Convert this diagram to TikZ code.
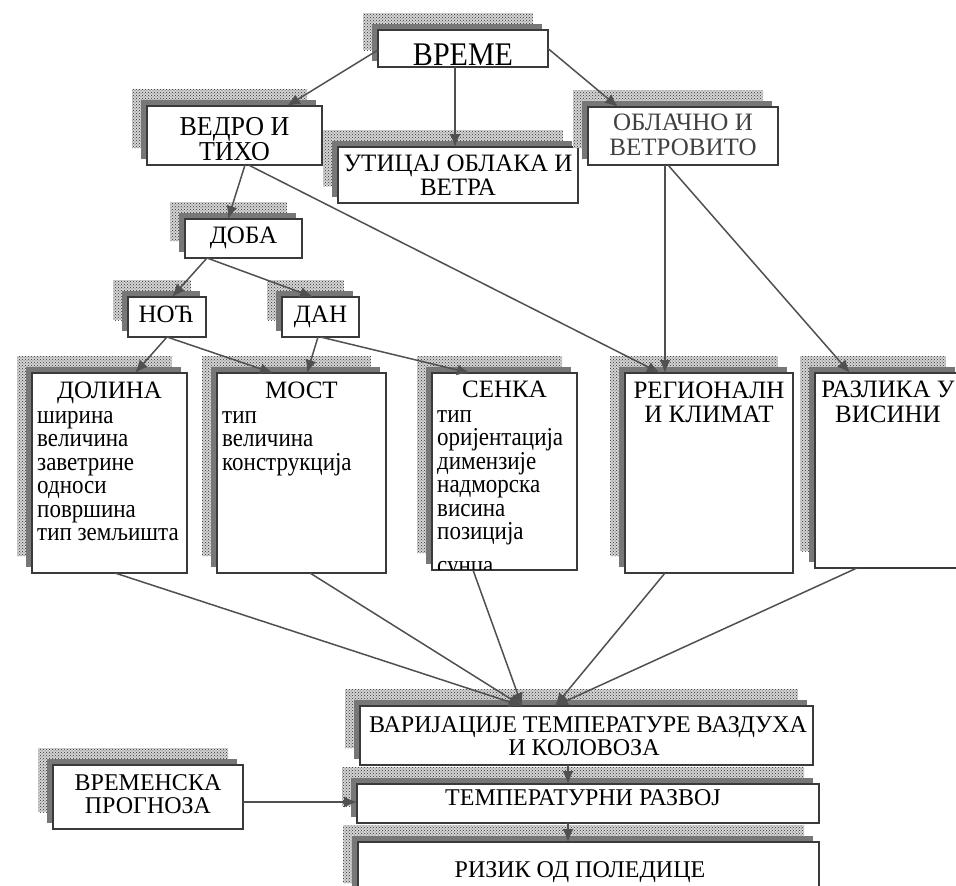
\documentclass[tikz,border=0pt]{standalone}
\usepackage{fontspec}
\usepackage{graphicx}
\setmainfont{Liberation Serif}
\newfontfamily\tms{Liberation Serif}
\usetikzlibrary{arrows.meta,patterns}
\definecolor{boxc}{HTML}{3A3A3A}
\definecolor{linec}{HTML}{505050}
\definecolor{shc}{HTML}{777777}
\definecolor{dotc}{HTML}{303030}
\definecolor{shbg}{HTML}{D4D4D4}
\newcommand\shbox[5]{%
  \fill[shbg] (#2-15,#3-17) rectangle (#4-15,#5-17);
  \fill[pattern=crosshatch dots, pattern color=dotc] (#2-15,#3-17) rectangle (#4-15,#5-17);
  \fill[shc] (#2-6,#3-6) rectangle (#4-6,#5-6);
  \node[boxst, minimum width=#4-#2, minimum height=#5-#3] (#1) at ({(#2+#4)/2},{(#3+#5)/2}) {};
}
\newcommand\tall[1]{\scalebox{1}[1.12]{#1}}
\tikzset{
  boxst/.style={draw=boxc, line width=1.5pt, fill=white, inner sep=0pt, outer sep=0pt},
  arr/.style={draw=linec, line width=1.5pt, -{Latex[length=13pt,width=11pt]}},
  lbl/.style={inner sep=0pt, anchor=base, font=\tms\fontsize{25}{25}\selectfont},
  itm/.style={inner sep=0pt, anchor=base west, font=\tms\fontsize{23}{23}\selectfont},
}
\begin{document}
\begin{tikzpicture}[x=1pt,y=-1pt]
\useasboundingbox[fill=white] (0,0) rectangle (956,886);
% boxes
\shbox{vreme}{378}{30}{548}{67}
\shbox{vedro}{147}{106}{322}{165}
\shbox{uticaj}{338}{147}{578}{203}
\shbox{oblacno}{588}{107}{778}{165}
\shbox{doba}{185}{219}{302}{258}
\shbox{noc}{128}{297}{206}{337}
\shbox{dan}{282}{297}{359}{337}
\shbox{dolina}{32}{373}{187}{573}
\shbox{most}{217}{373}{386}{573}
\shbox{senka}{432}{373}{577}{570}
\shbox{region}{625}{373}{793}{573}
\shbox{razlika}{815}{373}{961}{568}
\shbox{varij}{360}{706}{813}{765}
\shbox{temp}{357}{784}{819}{823}
\shbox{rizik}{358}{842}{819}{900}
\shbox{prognoza}{53}{765}{243}{829}
% texts
\node[lbl, font=\tms\fontsize{30}{30}\selectfont] (tvreme) at (463,65) {\scalebox{1}[1.1]{ВРЕМЕ}};
\node[lbl, font=\tms\fontsize{26}{26}\selectfont] (tvedro1) at (234.5,135) {\scalebox{1}[1.05]{ВЕДРО И}};
\node[lbl, font=\tms\fontsize{26}{26}\selectfont] (tvedro2) at (234.5,160) {\scalebox{1}[1.05]{ТИХО}};
\node[lbl] (tutic1) at (458,171) {УТИЦАЈ ОБЛАКА И};
\node[lbl] (tutic2) at (458,195) {ВЕТРА};
\node[lbl, text=black!75] (tobl1) at (683,130) {ОБЛАЧНО И};
\node[lbl, text=black!75] (tobl2) at (683,155) {ВЕТРОВИТО};
\node[lbl] (tdoba) at (243.5,243) {ДОБА};
\node[lbl] (tnoc) at (166,322) {НОЋ};
\node[lbl] (tdan) at (320.5,322) {ДАН};
\node[lbl] (tdol) at (109.5,398) {ДОЛИНА};
\node[itm] (d1) at (37,423) {\tall{ширина}};
\node[itm] (d2) at (37,446.5) {\tall{величина}};
\node[itm] (d3) at (37,470) {\tall{заветрине}};
\node[itm] (d4) at (37,493.5) {\tall{односи}};
\node[itm] (d5) at (37,517) {\tall{површина}};
\node[itm] (d6) at (37,540.5) {\tall{тип земљишта}};
\node[lbl] (tmost) at (301.5,398) {МОСТ};
\node[itm] (m1) at (222,423) {\tall{тип}};
\node[itm] (m2) at (222,446.5) {\tall{величина}};
\node[itm] (m3) at (222,470) {\tall{конструкција}};
\node[lbl] (tsenka) at (504.5,397) {СЕНКА};
\node[itm] (s1) at (437,422) {\tall{тип}};
\node[itm] (s2) at (437,445.5) {\tall{оријентација}};
\node[itm] (s3) at (437,469) {\tall{димензије}};
\node[itm] (s4) at (437,492.5) {\tall{надморска}};
\node[itm] (s5) at (437,516) {\tall{висина}};
\node[itm] (s6) at (437,539.5) {\tall{позиција}};
\begin{scope}
\clip (433,555) rectangle (576,569);
\node[itm] (s7) at (437,573) {\tall{сунца}};
\end{scope}
\node[lbl] (treg1) at (709,398) {РЕГИОНАЛН};
\node[lbl] (treg2) at (709,422) {И КЛИМАТ};
\node[lbl] (traz1) at (888,397) {РАЗЛИКА У};
\node[lbl] (traz2) at (888,422) {ВИСИНИ};
\node[lbl, font=\tms\fontsize{24}{24}\selectfont] (tvar1) at (588,732) {ВАРИЈАЦИЈЕ ТЕМПЕРАТУРЕ ВАЗДУХА};
\node[lbl, font=\tms\fontsize{24}{24}\selectfont] (tvar2) at (584,755) {И КОЛОВОЗА};
\node[lbl, font=\tms\fontsize{24}{24}\selectfont] (ttemp) at (583,805) {ТЕМПЕРАТУРНИ РАЗВОЈ};
\node[lbl, font=\tms\fontsize{24}{24}\selectfont] (triz) at (580,877) {РИЗИК ОД ПОЛЕДИЦЕ};
\node[lbl, font=\tms\fontsize{24}{24}\selectfont] (tpro1) at (148,790) {ВРЕМЕНСКА};
\node[lbl, font=\tms\fontsize{24}{24}\selectfont] (tpro2) at (148,813) {ПРОГНОЗА};
% connectors
\draw[arr] ([yshift=-1.5]vreme.west) -- ([xshift=52.5]vedro.north);
\draw[arr] ([xshift=-8]vreme.south) -- ([xshift=-3]uticaj.north);
\draw[arr] (vreme.east) -- ([xshift=-65]oblacno.north);
\draw[arr] ([xshift=10.5]vedro.south) -- ([xshift=-15.5]doba.north);
\draw[arr] ([xshift=14]vedro.south) -- ([xshift=-49]region.north);
\draw[arr] ([xshift=-18]oblacno.south) -- ([xshift=-44]region.north);
\draw[arr] ([xshift=-15]oblacno.south) -- ([xshift=-38]razlika.north);
\draw[arr] ([xshift=-36.5]doba.south) -- ([xshift=5]noc.north);
\draw[arr] ([xshift=-36.5]doba.south) -- ([xshift=-7.5]dan.north);
\draw[arr] (noc.south) -- ([xshift=25.5]dolina.north);
\draw[arr] (noc.south) -- ([xshift=-28.5]most.north);
\draw[arr] ([xshift=-2.5]dan.south) -- ([xshift=5.5]most.north);
\draw[arr] (dan.south) -- ([xshift=-34.5]senka.north);
\draw[arr] ([xshift=5.5]dolina.south) -- ([xshift=-64.5]varij.north);
\draw[arr] ([xshift=8.5]most.south) -- ([xshift=-64.5]varij.north);
\draw[arr] ([xshift=-31.5]senka.south) -- ([xshift=-64.5]varij.north);
\draw[arr] ([xshift=-44]region.south) -- ([xshift=-31.5]varij.north);
\draw[arr] ([xshift=-31]razlika.south) -- ([xshift=-31.5]varij.north);
\draw[arr] ([xshift=-18.5]varij.south) -- ([xshift=-20]temp.north);
\draw[arr] ([xshift=-20]temp.south) -- ([xshift=-20.5]rizik.north);
\coordinate (tw) at ([yshift=1.5]temp.west);
\draw[arr] (prognoza.east |- tw) -- (tw);
\end{tikzpicture}
\end{document}
